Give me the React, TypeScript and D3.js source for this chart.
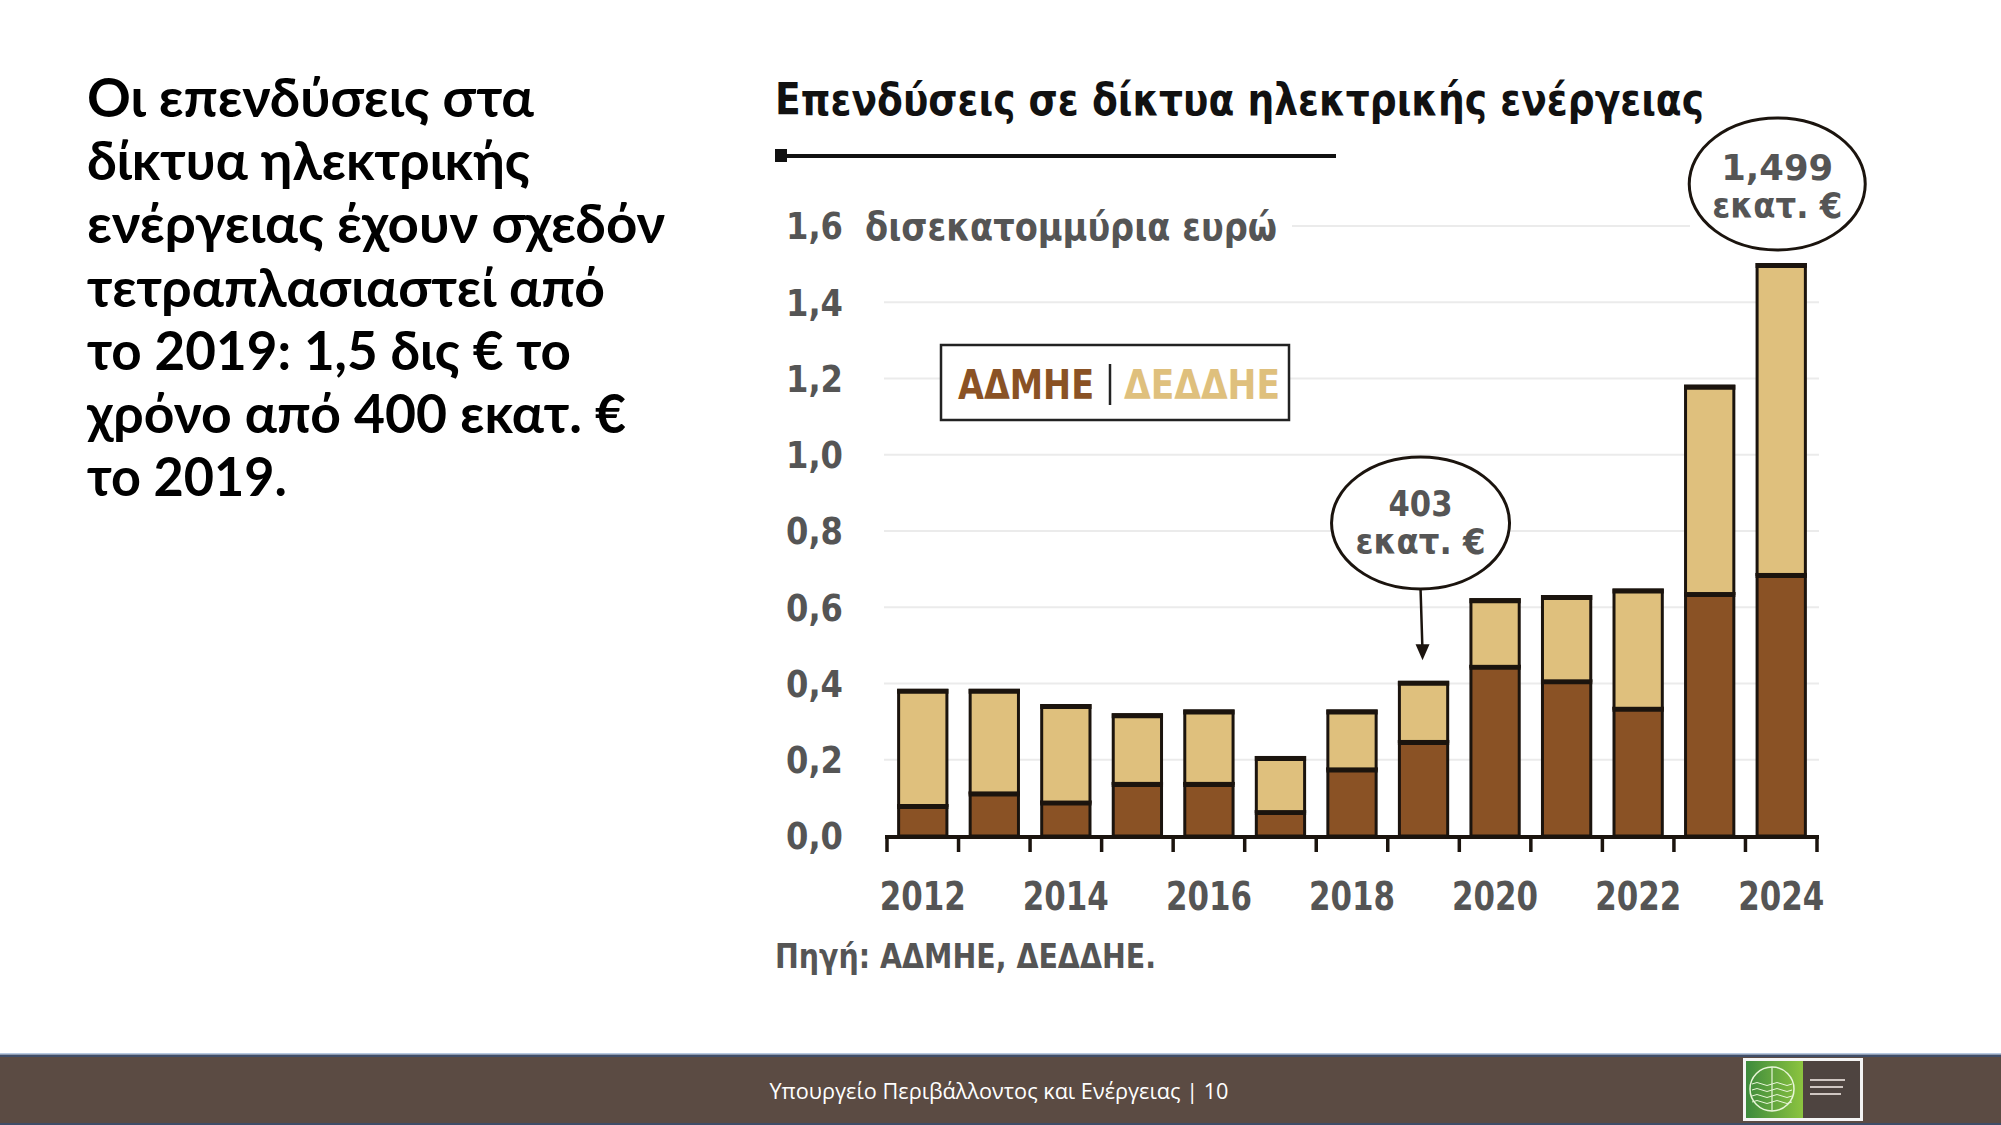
import React from "react";
import * as d3 from "d3";

const years = [2012, 2013, 2014, 2015, 2016, 2017, 2018, 2019, 2020, 2021, 2022, 2023, 2024];
const admie = [0.08, 0.113, 0.089, 0.138, 0.138, 0.064, 0.176, 0.248, 0.445, 0.407, 0.335, 0.636, 0.686];
const deddie = [0.302, 0.269, 0.253, 0.18, 0.19, 0.142, 0.152, 0.155, 0.175, 0.221, 0.31, 0.544, 0.813];
const yTicks = [0, 0.2, 0.4, 0.6, 0.8, 1.0, 1.2, 1.4, 1.6];
const xLabelYears = [2012, 2014, 2016, 2018, 2020, 2022, 2024];

const leftLines = [
  { t: "Οι επενδύσεις στα", w: 447 },
  { t: "δίκτυα ηλεκτρικής", w: 443 },
  { t: "ενέργειας έχουν σχεδόν", w: 578 },
  { t: "τετραπλασιαστεί από", w: 518 },
  { t: "το 2019: 1,5 δις € το", w: 484 },
  { t: "χρόνο από 400 εκατ. €", w: 539 },
  { t: "το 2019.", w: 200 },
];

const DARK = "#8a5225";
const LIGHT = "#dfc07d";
const INK = "#1b140e";
const GREY = "#555555";
const CF = "'DejaVu Sans Condensed', 'DejaVu Sans', sans-serif";
const BF = "Lato, 'Noto Sans', 'Open Sans', sans-serif";

export default function App() {
  const x = d3.scaleBand<number>().domain(years).range([887, 1817]).paddingInner(0.325).paddingOuter(0.1625);
  const y = d3.scaleLinear().domain([0, 1.6]).range([836, 226]);
  const step = x.step();
  const bw = x.bandwidth();
  const totals = years.map((_, i) => admie[i] + deddie[i]);
  const stack = d3.stack<number>().keys(["a", "d"]).value((i, k) => (k === "a" ? admie[i] : deddie[i]))(years.map((_, i) => i));
  const fmt = (v: number) => v.toFixed(1).replace(".", ",");
  const i19 = years.indexOf(2019);
  const i24 = years.indexOf(2024);
  const cx19 = (x(2019) as number) + bw / 2;
  const cx24 = (x(2024) as number) + bw / 2;

  return (
    <svg width={2001} height={1125} style={{ position: "absolute", left: 0, top: 0, background: "#fff" }}>
      {/* left headline */}
      {leftLines.map((l, i) => (
        <text key={i} x={87} y={117 + i * 63.2} fontFamily={BF} fontWeight={700} fontSize={54} fill="#000"
          textLength={l.w} lengthAdjust="spacingAndGlyphs">{l.t}</text>
      ))}

      {/* title */}
      <text x={775} y={115} fontFamily={CF} fontWeight={700} fontSize={45} fill="#111" textLength={929} lengthAdjust="spacingAndGlyphs">
        Επενδύσεις σε δίκτυα ηλεκτρικής ενέργειας
      </text>
      <line x1={778} x2={1336} y1={156} y2={156} stroke="#111" strokeWidth={4} />
      <rect x={775} y={149} width={12} height={13} fill="#111" />

      {/* gridlines */}
      {yTicks.filter((t) => t > 0).map((t) => (
        <line key={t} x1={t === 1.6 ? 1292 : 884} x2={t === 1.6 ? 1690 : 1819} y1={y(t)} y2={y(t)} stroke="#ebebeb" strokeWidth={2} />
      ))}

      {/* y labels */}
      {yTicks.map((t) => (
        <text key={t} x={843} y={y(t)} dy="0.36em" textAnchor="end" fontFamily={CF} fontWeight={700} fontSize={37} fill={GREY}
          textLength={57} lengthAdjust="spacingAndGlyphs">
          {fmt(t)}
        </text>
      ))}
      <text x={865} y={y(1.6)} dy="0.36em" fontFamily={CF} fontWeight={700} fontSize={39} fill={GREY} textLength={412} lengthAdjust="spacingAndGlyphs">
        δισεκατομμύρια ευρώ
      </text>

      {/* legend */}
      <rect x={941} y={345} width={348} height={75} fill="#fff" stroke="#222" strokeWidth={2.5} />
      <text x={958} y={399} fontFamily={CF} fontWeight={700} fontSize={40} fill={DARK} textLength={136} lengthAdjust="spacingAndGlyphs">ΑΔΜΗΕ</text>
      <line x1={1110} x2={1110} y1={364} y2={405} stroke="#222" strokeWidth={2.5} />
      <text x={1124} y={399} fontFamily={CF} fontWeight={700} fontSize={40} fill={LIGHT} textLength={156} lengthAdjust="spacingAndGlyphs">ΔΕΔΔΗΕ</text>

      {/* bars */}
      {stack.map((series, si) => (
        <g key={si}>
          {series.map((d, i) => {
            const bx = x(years[i]) as number;
            const y0 = y(d[0]);
            const y1 = y(d[1]);
            return (
              <g key={i}>
                <rect x={bx} y={y1} width={bw} height={y0 - y1} fill={si === 0 ? DARK : LIGHT} stroke={INK} strokeWidth={3} />
                <line x1={bx - 1.5} x2={bx + bw + 1.5} y1={y1 + 1} y2={y1 + 1} stroke={INK} strokeWidth={5} />
              </g>
            );
          })}
        </g>
      ))}

      {/* x axis */}
      <line x1={885} x2={1819} y1={837} y2={837} stroke={INK} strokeWidth={4} />
      {d3.range(years.length + 1).map((k) => (
        <line key={k} x1={887 + k * step} x2={887 + k * step} y1={837} y2={852} stroke={INK} strokeWidth={3.5} />
      ))}
      {xLabelYears.map((yr) => (
        <text key={yr} x={(x(yr) as number) + bw / 2} y={910} textAnchor="middle" fontFamily={CF} fontWeight={700} fontSize={39} fill={GREY}
          textLength={86} lengthAdjust="spacingAndGlyphs">
          {yr}
        </text>
      ))}

      {/* callout 2019 */}
      <ellipse cx={cx19 - 3} cy={523} rx={89} ry={66} fill="#fff" stroke={INK} strokeWidth={3} />
      <text x={cx19 - 3} y={516} textAnchor="middle" fontFamily={CF} fontWeight={700} fontSize={35} fill={GREY}
        textLength={64} lengthAdjust="spacingAndGlyphs">
        {Math.round(totals[i19] * 1000)}
      </text>
      <text x={cx19 - 3} y={554} textAnchor="middle" fontFamily={CF} fontWeight={700} fontSize={35} fill={GREY} textLength={130} lengthAdjust="spacingAndGlyphs">
        εκατ. €
      </text>
      <line x1={cx19 - 3} y1={589} x2={cx19 - 1} y2={y(totals[i19]) - 30} stroke={INK} strokeWidth={2.5} />
      <path d={`M${cx19 - 8},${y(totals[i19]) - 38} L${cx19 - 1},${y(totals[i19]) - 22} L${cx19 + 6},${y(totals[i19]) - 38} Z`} fill={INK} />

      {/* callout 2024 */}
      <ellipse cx={cx24 - 4} cy={184} rx={88} ry={66} fill="#fff" stroke={INK} strokeWidth={3} />
      <text x={cx24 - 4} y={180} textAnchor="middle" fontFamily={CF} fontWeight={700} fontSize={35} fill={GREY}
        textLength={112} lengthAdjust="spacingAndGlyphs">
        {totals[i24].toFixed(3).replace(".", ",")}
      </text>
      <text x={cx24 - 4} y={218} textAnchor="middle" fontFamily={CF} fontWeight={700} fontSize={35} fill={GREY} textLength={130} lengthAdjust="spacingAndGlyphs">
        εκατ. €
      </text>

      {/* source */}
      <text x={775} y={968} fontFamily={CF} fontWeight={700} fontSize={34} fill={GREY} textLength={381} lengthAdjust="spacingAndGlyphs">
        Πηγή: ΑΔΜΗΕ, ΔΕΔΔΗΕ.
      </text>

      {/* footer */}
      <rect x={0} y={1054} width={2001} height={71} fill="#5b4b43" />
      <line x1={0} x2={2001} y1={1054} y2={1054} stroke="#9fb6d6" strokeWidth={1.5} />
      <line x1={0} x2={2001} y1={1056} y2={1056} stroke="#3f4d68" strokeWidth={2} />
      <line x1={0} x2={2001} y1={1124} y2={1124} stroke="#3f4d68" strokeWidth={2} />
      <text x={999} y={1099} textAnchor="middle" fontFamily="'Open Sans', 'Noto Sans', sans-serif" fontSize={21} fill="#fff"
        textLength={459} lengthAdjust="spacingAndGlyphs">
        Υπουργείο Περιβάλλοντος και Ενέργειας | 10
      </text>
      <defs>
        <linearGradient id="lg" x1="0" x2="1" y1="0" y2="0">
          <stop offset="0" stopColor="#3d8a3d" />
          <stop offset="1" stopColor="#8cc43f" />
        </linearGradient>
      </defs>
      <rect x={1743} y={1058} width={120} height={63} fill="#f4f4f4" />
      <rect x={1746} y={1061} width={57} height={57} fill="url(#lg)" />
      <rect x={1803} y={1061} width={57} height={57} fill="#4e4440" />
      <circle cx={1772} cy={1089} r={22} fill="none" stroke="#e8f5d8" strokeWidth={1.5} />
      <line x1={1772} x2={1772} y1={1067} y2={1111} stroke="#e8f5d8" strokeWidth={1.2} />
      {[1084, 1090, 1096, 1102].map((yy) => (
        <path key={yy} d={`M${1752},${yy} q5,-3 10,0 t10,0 t10,0 t10,0`} fill="none" stroke="#e8f5d8" strokeWidth={1} />
      ))}
      {[1080, 1087, 1094].map((yy, k) => (
        <line key={k} x1={1810} x2={1845 - k * 2} y1={yy} y2={yy} stroke="#cfc6c2" strokeWidth={2} />
      ))}
    </svg>
  );
}
